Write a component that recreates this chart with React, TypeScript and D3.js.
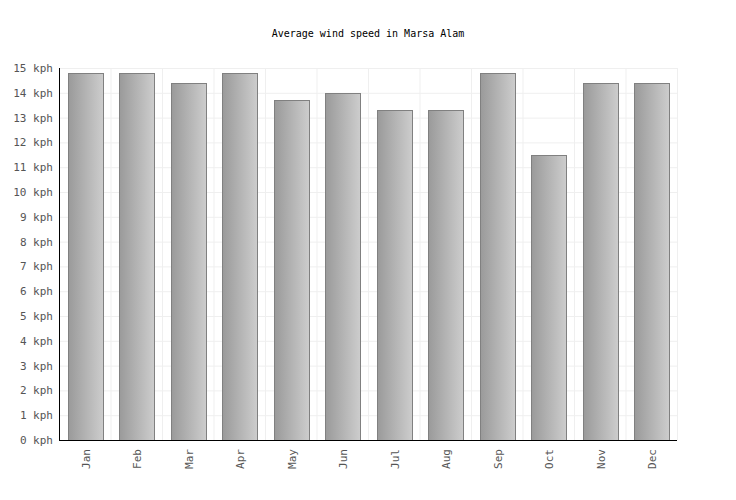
import { useEffect, useRef } from 'react';
import * as d3 from 'd3';

const months = ['Jan', 'Feb', 'Mar', 'Apr', 'May', 'Jun', 'Jul', 'Aug', 'Sep', 'Oct', 'Nov', 'Dec'];
const windSpeed = [14.8, 14.8, 14.4, 14.8, 13.7, 14.0, 13.3, 13.3, 14.8, 11.5, 14.4, 14.4];
const yTicks = d3.range(0, 16);
const title = 'Average wind speed in Marsa Alam';

export default function App() {
  const ref = useRef<SVGSVGElement | null>(null);

  useEffect(() => {
    document.body.style.margin = '0';
    if (!ref.current) return;

    const width = 736;
    const height = 500;
    const margin = { top: 68, right: 59, bottom: 60, left: 59 };
    const innerWidth = width - margin.left - margin.right;
    const innerHeight = height - margin.top - margin.bottom;
    const font = '"DejaVu Sans Mono", monospace';

    const root = d3.select(ref.current);
    root.selectAll('*').remove();
    root.attr('width', width).attr('height', height);

    const grad = root
      .append('defs')
      .append('linearGradient')
      .attr('id', 'barGrad')
      .attr('x1', '0%')
      .attr('x2', '100%')
      .attr('y1', '0%')
      .attr('y2', '0%');
    grad.append('stop').attr('offset', '0%').attr('stop-color', '#9a9a9a');
    grad.append('stop').attr('offset', '100%').attr('stop-color', '#cdcdcd');

    root
      .append('text')
      .attr('x', width / 2)
      .attr('y', 37)
      .attr('text-anchor', 'middle')
      .attr('font-family', font)
      .attr('font-size', 10)
      .attr('fill', '#000')
      .text(title);

    const svg = root.append('g').attr('transform', `translate(${margin.left},${margin.top})`);

    const x = d3.scaleBand<string>().domain(months).range([0, innerWidth]).paddingInner(0.33).paddingOuter(0.165);
    const xGrid = d3.scaleLinear().domain([0, months.length]).range([0, innerWidth]);
    const y = d3.scaleLinear().domain([0, 15]).range([innerHeight, 0]);

    // grid
    svg
      .append('g')
      .selectAll('line')
      .data(yTicks)
      .join('line')
      .attr('x1', 0)
      .attr('x2', innerWidth)
      .attr('y1', d => y(d) + 0.5)
      .attr('y2', d => y(d) + 0.5)
      .attr('stroke', '#efefef');
    svg
      .append('g')
      .selectAll('line')
      .data(d3.range(1, months.length + 1))
      .join('line')
      .attr('x1', d => xGrid(d) + 0.5)
      .attr('x2', d => xGrid(d) + 0.5)
      .attr('y1', 0)
      .attr('y2', innerHeight)
      .attr('stroke', '#efefef');

    // bars
    svg
      .append('g')
      .selectAll('rect')
      .data(windSpeed)
      .join('rect')
      .attr('x', (_, i) => Math.ceil(x(months[i]) ?? 0) + 0.5)
      .attr('y', d => Math.round(y(d)) + 0.5)
      .attr('width', Math.round(x.bandwidth()))
      .attr('height', d => innerHeight - Math.round(y(d)))
      .attr('fill', 'url(#barGrad)')
      .attr('stroke', '#808080')
      .attr('stroke-width', 1);

    // axes
    const yAxis = svg
      .append('g')
      .call(d3.axisLeft(y).tickValues(yTicks).tickSize(0).tickPadding(6).tickFormat(d => `${d} kph`));
    yAxis.select('.domain').remove();
    yAxis.selectAll('text').attr('font-family', font).attr('font-size', 11).attr('fill', '#555');

    const xAxis = svg
      .append('g')
      .attr('transform', `translate(0,${innerHeight})`)
      .call(d3.axisBottom(x).tickSize(0).tickPadding(0));
    xAxis.select('.domain').remove();
    xAxis
      .selectAll('text')
      .attr('font-family', font)
      .attr('font-size', 11)
      .attr('fill', '#555')
      .attr('transform', 'rotate(-90)')
      .attr('text-anchor', 'end')
      .attr('x', -9)
      .attr('y', 1)
      .attr('dy', '0.35em');

    svg
      .append('line')
      .attr('x1', 0.5)
      .attr('x2', 0.5)
      .attr('y1', 0)
      .attr('y2', innerHeight + 1)
      .attr('stroke', '#000');
    svg
      .append('line')
      .attr('x1', 0)
      .attr('x2', innerWidth)
      .attr('y1', innerHeight + 0.5)
      .attr('y2', innerHeight + 0.5)
      .attr('stroke', '#000');
  }, []);

  return <svg ref={ref} style={{ display: 'block' }} />;
}
